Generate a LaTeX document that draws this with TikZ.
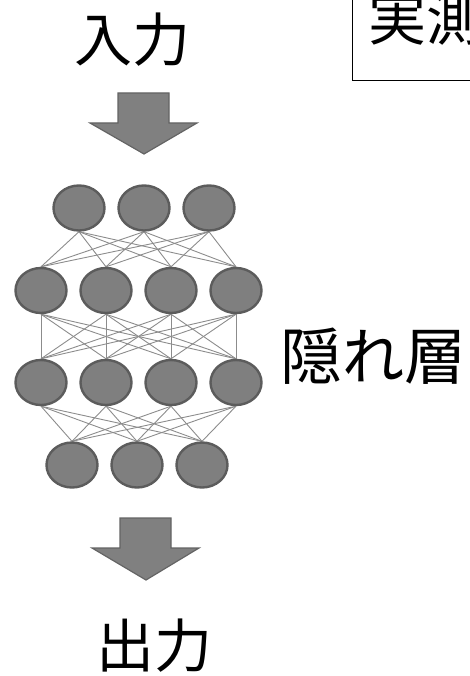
\documentclass[tikz,border=0pt]{standalone}
\usepackage{fontspec}
\newfontfamily\jp{Noto Sans CJK JP}
\usetikzlibrary{shapes.geometric}
\definecolor{nfill}{RGB}{127,127,127}
\definecolor{ndraw}{RGB}{92,92,92}
\definecolor{edgec}{RGB}{140,140,140}
\definecolor{arrfill}{RGB}{128,128,128}
\definecolor{arrdraw}{RGB}{100,100,100}
\pgfdeclarelayer{bg}
\pgfsetlayers{bg,main}
\begin{document}
\begin{tikzpicture}[x=1pt,y=-1pt,
  neuron/.style={ellipse,fill=nfill,draw=ndraw,line width=2.4pt,minimum width=51pt,minimum height=45pt,inner sep=0pt},
  link/.style={draw=edgec,line width=0.9pt},
  bigarrow/.style={fill=arrfill,draw=arrdraw,line width=1.2pt,line join=miter},
  label/.style={font=\jp\fontsize{58}{60}\selectfont,inner sep=0pt}]
\useasboundingbox (0,0) rectangle (470,676);
\clip (0,0) rectangle (470,676);
% input/output labels
\node[label] (in) at (132,40) {入力};
\node[label] (out) at (154,646) {出力};
\node[label,font=\jp\fontsize{62}{64}\selectfont] (hid) at (373,356) {隠れ層};
% boxed label (clipped at the edge)
\draw[line width=1pt] (352,-20) rectangle (500,81);
\node[label,anchor=west] (meas) at (368,19) {実測};
% arrows
\path[bigarrow] (118,93) -- (169,93) -- (169,123) -- (197,123) -- (144,154) -- (90,123) -- (118,123) -- cycle;
\path[bigarrow] (120,518) -- (171,518) -- (171,548) -- (199,548) -- (146,580) -- (92,548) -- (120,548) -- cycle;
% neurons
\foreach \i/\x in {1/79,2/144,3/209} \node[neuron] (A\i) at (\x,208) {};
\foreach \i/\x in {1/41,2/106,3/171,4/236} \node[neuron] (B\i) at (\x,290.5) {};
\foreach \i/\x in {1/41,2/106,3/171,4/236} \node[neuron] (C\i) at (\x,382.5) {};
\foreach \i/\x in {1/72,2/137,3/202} \node[neuron] (D\i) at (\x,465) {};
% connections
\begin{pgfonlayer}{bg}
\foreach \i in {1,2,3}{\foreach \j in {1,2,3,4}{\draw[link] (A\i.south) -- (B\j.north);}}
\foreach \i in {1,2,3,4}{\foreach \j in {1,2,3,4}{\draw[link] (B\i.south) -- (C\j.north);}}
\foreach \i in {1,2,3,4}{\foreach \j in {1,2,3}{\draw[link] (C\i.south) -- (D\j.north);}}
\end{pgfonlayer}
\end{tikzpicture}
\end{document}
